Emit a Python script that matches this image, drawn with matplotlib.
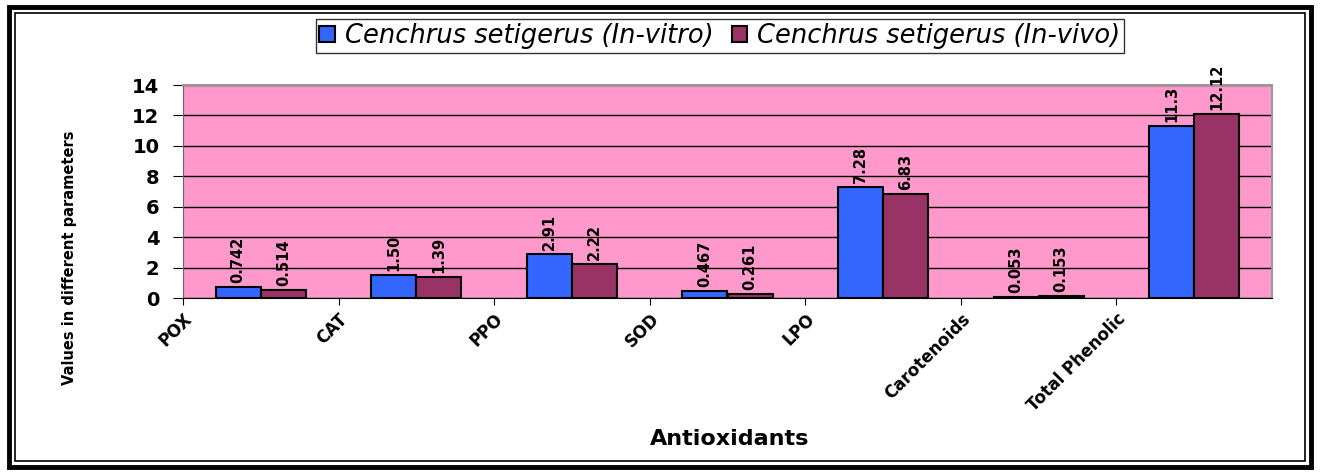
"""
Antioxidant values in Cenchrus setigerus: in-vitro vs in-vivo.
"""
import matplotlib
matplotlib.use("Agg")
import matplotlib.pyplot as plt
import numpy as np
from matplotlib.patches import Rectangle

CATEGORIES = ["POX", "CAT", "PPO", "SOD", "LPO", "Carotenoids", "Total Phenolic"]
IN_VITRO = [0.742, 1.50, 2.91, 0.467, 7.28, 0.053, 11.3]
IN_VIVO = [0.514, 1.39, 2.22, 0.261, 6.83, 0.153, 12.12]
VITRO_LABELS = ["0.742", "1.50", "2.91", "0.467", "7.28", "0.053", "11.3"]
VIVO_LABELS = ["0.514", "1.39", "2.22", "0.261", "6.83", "0.153", "12.12"]
SERIES = ["Cenchrus setigerus (In-vitro)", "Cenchrus setigerus (In-vivo)"]

BLUE = "#3366FF"
MAROON = "#993366"
PINK = "#FF99CC"

plt.rcParams["font.family"] = ["DejaVu Sans"]

fig = plt.figure(figsize=(13.2, 4.73), dpi=100)
W, H = 1320, 473

# double frame around the chart
fig.patches.append(Rectangle((9 / W, 6 / H), 1302 / W, 460 / H, transform=fig.transFigure,
                             fill=False, lw=3.5, ec="black"))
fig.patches.append(Rectangle((15 / W, 12 / H), 1290 / W, 448 / H, transform=fig.transFigure,
                             fill=False, lw=1.2, ec="black"))

left, right, top, bottom = 183, 1272, 85, 298
ax = fig.add_axes([left / W, 1 - bottom / H, (right - left) / W, (bottom - top) / H])
ax.set_facecolor(PINK)

x = np.arange(len(CATEGORIES))
bw = 0.29
b1 = ax.bar(x - bw / 2, IN_VITRO, bw, color=BLUE, edgecolor="black", lw=1.5,
            label=SERIES[0], zorder=3)
b2 = ax.bar(x + bw / 2, IN_VIVO, bw, color=MAROON, edgecolor="black", lw=1.5,
            label=SERIES[1], zorder=3)

for bars, labels in ((b1, VITRO_LABELS), (b2, VIVO_LABELS)):
    for rect, lab in zip(bars, labels):
        ax.text(rect.get_x() + rect.get_width() / 2, rect.get_height() + 0.25, lab,
                rotation=90, ha="center", va="bottom", fontsize=10.5, fontweight="bold",
                zorder=4)

ax.set_xlim(-0.5, len(CATEGORIES) - 0.5)
ax.set_ylim(0, 14)
ax.set_yticks(np.arange(0, 15, 2))
ax.yaxis.grid(True, color="black", lw=1)
ax.set_axisbelow(True)
ax.tick_params(axis="y", labelsize=14, length=7, pad=10, direction="out")
for lab in ax.get_yticklabels():
    lab.set_fontweight("bold")

ax.set_xticks(x - 0.5)
ax.set_xticklabels(CATEGORIES, rotation=45, ha="right", rotation_mode="anchor",
                   fontsize=12, fontweight="bold")
ax.tick_params(axis="x", length=5, direction="out")

for side in ("top", "right"):
    ax.spines[side].set_color("#999999")
    ax.spines[side].set_linewidth(1.5)
ax.spines["left"].set_color("#666666")
ax.spines["bottom"].set_color("black")

ax.set_xlabel("Antioxidants", fontsize=16, fontweight="bold", labelpad=0)
ax.xaxis.set_label_coords(0.502, -0.615)
ax.set_ylabel("Values in different parameters", fontsize=10.5, fontweight="bold")
ax.yaxis.set_label_coords(-0.097, 0.19)

leg = fig.legend(handles=[b1, b2], loc="center", bbox_to_anchor=(720 / W, 1 - 36 / H),
                 ncol=2, frameon=True, fancybox=False, edgecolor="black",
                 prop={"style": "oblique", "size": 18.5}, handlelength=0.6,
                 handleheight=0.6, handletextpad=0.4, columnspacing=0.7,
                 borderpad=0.15)
leg.get_frame().set_linewidth(1.0)

fig.savefig("out.png", dpi=100)
